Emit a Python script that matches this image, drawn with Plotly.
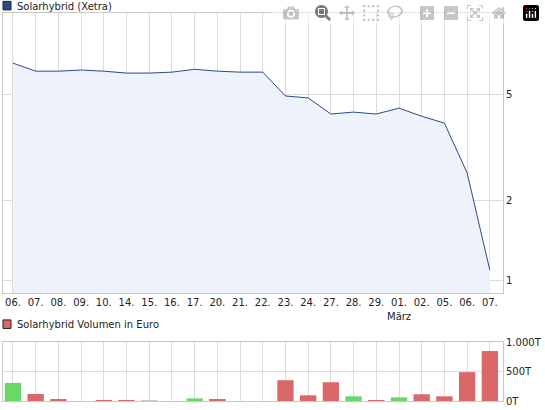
import plotly.graph_objects as go

dates = ["06.", "07.", "08.", "09.", "10.", "14.", "15.", "16.", "17.", "20.", "21.",
         "22.", "23.", "24.", "27.", "28.", "29.", "01.", "02.", "05.", "06.", "07."]
price = [6.54, 6.1, 6.1, 6.16, 6.1, 6.0, 6.0, 6.05, 6.2, 6.1, 6.05,
         6.05, 4.92, 4.84, 4.21, 4.28, 4.21, 4.43, 4.13, 3.89, 2.53, 1.09]
volume = [307, 119, 28, 0, 11, 11, 11, 0, 45, 28, 0,
          0, 352, 97, 318, 80, 11, 62, 114, 80, 489, 847]
vol_dir = ["up", "down", "down", "flat", "down", "down", "flat", "flat", "up", "down", "flat",
           "flat", "down", "down", "down", "up", "down", "up", "down", "down", "down", "down"]
price_ticks = [1, 2, 5]
vol_ticks = [0, 500, 1000]
vol_ticktext = ["0T", "500T", "1.000T"]

cmap = {"up": "#69d869", "down": "#db6868", "flat": "#c8c8c8"}
x = list(range(len(dates)))
FONT = "DejaVu Sans"
GRID = "#dcdcdc"

fig = go.Figure()
fig.add_trace(go.Scatter(x=x, y=price, mode="lines", line=dict(color="#2c4a8c", width=1),
                         fill="tozeroy", fillcolor="#eef2fb", xaxis="x", yaxis="y"))
fig.add_trace(go.Bar(x=x, y=volume, marker=dict(color=[cmap[d] for d in vol_dir], line_width=0),
                     width=0.72, xaxis="x2", yaxis="y2"))

xcommon = dict(range=[-0.44, 21.58], tickvals=x, showgrid=True, gridcolor=GRID, gridwidth=1,
               zeroline=False, showline=True, linecolor="#c8c8c8", mirror=True, ticks="",
               automargin=False)
fig.update_layout(
    width=545, height=410, margin=dict(l=3, r=42, t=13, b=9),
    plot_bgcolor="white", paper_bgcolor="white", showlegend=False,
    font=dict(family=FONT, size=10, color="#222"),
    xaxis=dict(**xcommon, ticktext=dates, showticklabels=True, anchor="y"),
    yaxis=dict(type="log", range=[-0.049, 1.004], domain=[0.278, 1], side="right",
               tickvals=price_ticks, ticktext=[str(t) for t in price_ticks],
               showgrid=True, gridcolor=GRID, zeroline=False, showline=True,
               linecolor="#c8c8c8", mirror=True, ticks="", automargin=False),
    xaxis2=dict(**xcommon, showticklabels=False, anchor="y2"),
    yaxis2=dict(range=[0, 1000], domain=[0, 0.152], side="right", tickvals=vol_ticks,
                ticktext=vol_ticktext, showgrid=True, gridcolor=GRID, zeroline=False,
                showline=True, linecolor="#c8c8c8", mirror=True, ticks="", automargin=False),
    bargap=0.28,
)
fig.add_annotation(x=17, y=0.236, xref="x", yref="paper", text="März", showarrow=False,
                   yanchor="top", font=dict(size=10, family=FONT))
fig.add_annotation(x=0.0, y=1.018, xref="paper", yref="paper", xshift=12,
                   text="Solarhybrid (Xetra)", showarrow=False, xanchor="left", yanchor="middle",
                   font=dict(size=10, family=FONT))
fig.add_annotation(x=0.0, y=0.198, xref="paper", yref="paper", xshift=12,
                   text="Solarhybrid Volumen in Euro", showarrow=False, xanchor="left",
                   yanchor="middle", font=dict(size=10, family=FONT))
fig.add_shape(type="rect", xref="paper", yref="paper", x0=0.0, x1=0.016, y0=1.008, y1=1.03,
              fillcolor="#2c4a8c", line=dict(color="#222", width=1))
fig.add_shape(type="rect", xref="paper", yref="paper", x0=0.0, x1=0.016, y0=0.187, y1=0.209,
              fillcolor="#db6868", line=dict(color="#222", width=1))
fig.write_html("out.html", post_script="document.body.style.margin='0';")
